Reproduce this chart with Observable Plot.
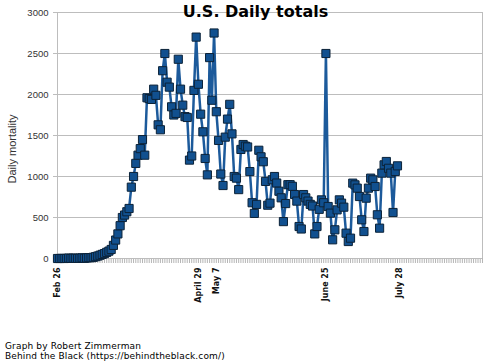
<!DOCTYPE html>
<html><head><meta charset="utf-8">
<script src="https://cdn.jsdelivr.net/npm/d3@7"></script>
<script src="https://cdn.jsdelivr.net/npm/@observablehq/plot@0.6"></script>
<style>
body{margin:0;background:#fff;}
#wrap{position:relative;width:500px;height:364px;overflow:hidden;}
#wrap svg{position:absolute;left:0;top:0;}
.title{position:absolute;left:0;width:511px;top:4px;text-align:center;font:bold 16px/16px "DejaVu Sans",sans-serif;color:#000;}
.ylab{position:absolute;left:12px;top:149px;transform:translate(-50%,-50%) rotate(-90deg);font:11px "Liberation Sans",Arial,sans-serif;color:#333;white-space:nowrap;}
.cap{position:absolute;left:5px;top:341px;font:9px/10px "DejaVu Sans",sans-serif;letter-spacing:0.15px;color:#000;}
</style></head><body><div id="wrap"></div>
<script>
const startDate = "Feb 26, 2020";
const deaths = [
0,0,1,0,1,5,1,4,3,2,4,8,3,7,10,
10,15,22,30,40,50,60,75,90,110,
160,225,300,400,500,530,570,610,870,1000,
1160,1260,1340,1450,1260,1960,1950,1940,2065,1990,
1630,1570,2290,2500,2150,2090,1850,1750,1770,2430,
2065,1870,1730,1720,1200,1250,2050,2700,2125,1760,
1545,1220,1020,2450,1930,2750,1790,1440,1030,890,
1480,1700,1880,1520,1000,980,840,1330,1390,1370,
1360,1060,680,550,660,1320,1240,1180,940,650,
675,960,1000,920,820,740,450,670,900,900,
880,780,700,390,360,780,740,700,660,640,
300,390,600,715,680,2500,634,553,228,350,
593,715,675,626,309,207,248,919,898,858,
756,472,329,736,858,980,959,878,533,370,
1041,1142,1183,1100,1041,561,1061,1130
];
const tickDays = [0, 63, 71, 120, 153];
const tickLabels = ["Feb 26", "April 29", "May 7", "June 25", "July 28"];
const yTicks = [0, 500, 1000, 1500, 2000, 2500, 3000];
const lastDay = 190;

const data = deaths.map((v, i) => ({day: i, deaths: v}));
const labelOf = d => tickLabels[tickDays.indexOf(d)];

const chart = Plot.plot({
  width: 500, height: 364,
  marginLeft: 57, marginRight: 18, marginTop: 12, marginBottom: 106,
  x: {domain: [0, lastDay]},
  y: {domain: [0, 3000]},
  style: {background: "#fff"},
  marks: [
    Plot.gridY(yTicks, {stroke: "#bdbdbd", strokeOpacity: 1}),
    Plot.axisY(yTicks, {tickSize: 4, tickPadding: 5, tickFormat: d => String(d), stroke: "#bdbdbd", fill: "#333", fontSize: 9.5, fontFamily: "Liberation Sans, Arial, sans-serif", label: null}),
    Plot.axisX(d3.range(0, lastDay + 1), {tickSize: 5, stroke: "#b5b5b5", tickFormat: () => "", label: null}),
    Plot.axisX(tickDays, {tickSize: 0, tickPadding: 9, tickRotate: -90, tickFormat: labelOf, fontSize: 8, fontWeight: "bold", fontFamily: "DejaVu Sans, sans-serif", fill: "#111", label: null}),
    Plot.ruleX([0, lastDay], {stroke: "#bdbdbd"}),
    Plot.ruleY([0], {stroke: "#bdbdbd"}),
    Plot.line(data, {x: "day", y: "deaths", stroke: "#1c5a9b", strokeWidth: 2.5}),
    Plot.dot(data, {x: "day", y: "deaths", symbol: "square", r: 4.6, fill: "#11508f", stroke: "#0b2238", strokeWidth: 1})
  ]
});
const wrap = document.getElementById("wrap");
wrap.appendChild(chart);
const t = document.createElement("div"); t.className = "title"; t.textContent = "U.S. Daily totals"; wrap.appendChild(t);
const yl = document.createElement("div"); yl.className = "ylab"; yl.textContent = "Daily mortality"; wrap.appendChild(yl);
const cap = document.createElement("div"); cap.className = "cap";
cap.innerHTML = "Graph by Robert Zimmerman<br>Behind the Black (https://behindtheblack.com/)";
wrap.appendChild(cap);
</script>
</body></html>
